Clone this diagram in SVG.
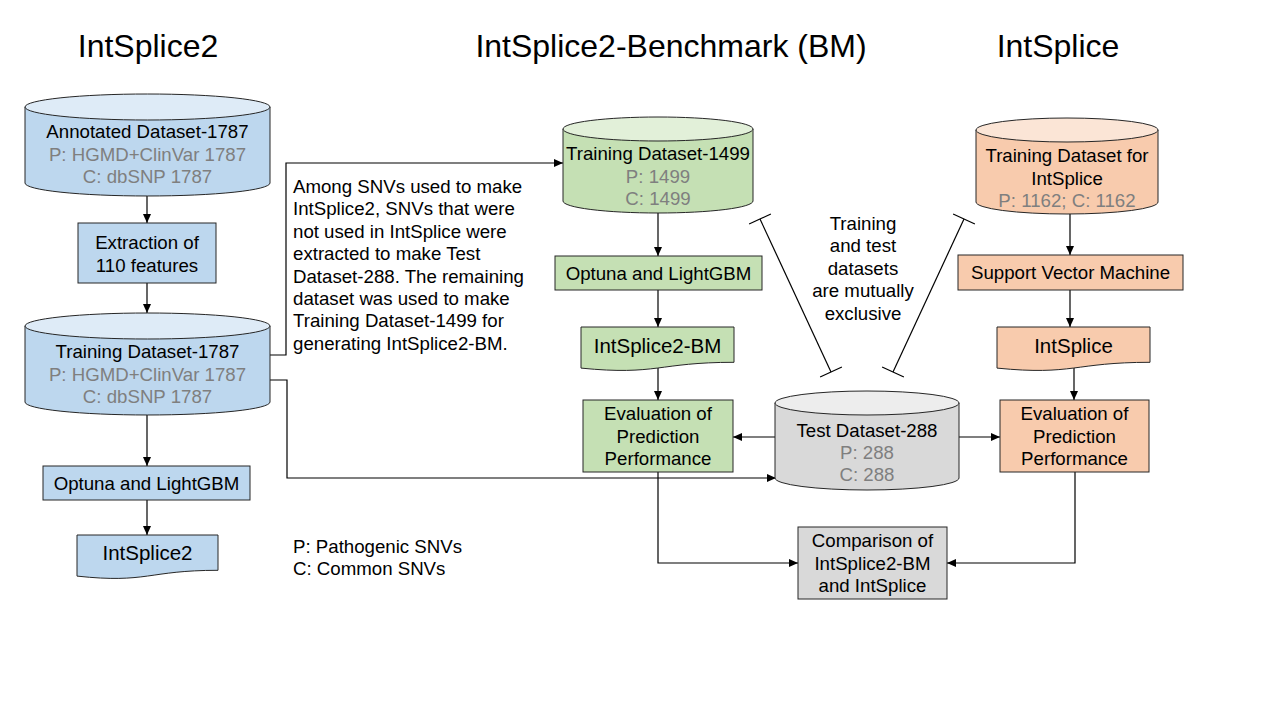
<svg xmlns="http://www.w3.org/2000/svg" width="1280" height="720" viewBox="0 0 1280 720">
<defs>
<marker id="arr" markerUnits="userSpaceOnUse" markerWidth="9" markerHeight="8" refX="9" refY="4" orient="auto"><path d="M0,0 L9,4 L0,8 Z" fill="#000"/></marker>
<marker id="tee" markerUnits="userSpaceOnUse" markerWidth="4" markerHeight="26" refX="2" refY="13" orient="auto" overflow="visible"><path d="M2,1 V25" stroke="#000" stroke-width="1.2" fill="none"/></marker>
</defs>
<style>
text{font-family:"Liberation Sans",Arial,sans-serif;font-size:18.67px;fill:#000;text-anchor:middle}
.title{font-size:32px}
.doc{font-size:20.5px}
.g{fill:#7f7f7f}
.left{text-anchor:start}
.shp{stroke:#262626;stroke-width:1}
.bb{fill:#bdd7ee}.bt{fill:#deebf7}
.gb{fill:#c5e0b4}.gt{fill:#e2f0d9}
.ob{fill:#f8cbad}.ot{fill:#fbe5d6}
.yb{fill:#d9d9d9}.yt{fill:#ededed}
.c{fill:none;stroke:#000;stroke-width:1.2}
</style>
<rect width="1280" height="720" fill="#fff"/>
<g id="titles">
<text class="title" x="148" y="57">IntSplice2</text>
<text class="title" x="671" y="57">IntSplice2-Benchmark (BM)</text>
<text class="title" x="1058" y="57">IntSplice</text>
</g>
<g id="connectors">
<path class="c" d="M147,196 V223" marker-end="url(#arr)"/>
<path class="c" d="M147,283 V313" marker-end="url(#arr)"/>
<path class="c" d="M147,415 V466" marker-end="url(#arr)"/>
<path class="c" d="M147,500 V535" marker-end="url(#arr)"/>
<path class="c" d="M270,355 H286 V163 H563" marker-end="url(#arr)"/>
<path class="c" d="M270,380 H287 V478 H776" marker-end="url(#arr)"/>
<path class="c" d="M658,213 V256" marker-end="url(#arr)"/>
<path class="c" d="M658,290 V327" marker-end="url(#arr)"/>
<path class="c" d="M658,368 V400" marker-end="url(#arr)"/>
<path class="c" d="M775,437 H733" marker-end="url(#arr)"/>
<path class="c" d="M658,472 V563 H798" marker-end="url(#arr)"/>
<path class="c" d="M1070,214 V255" marker-end="url(#arr)"/>
<path class="c" d="M1070,290 V327" marker-end="url(#arr)"/>
<path class="c" d="M1074,368 V400" marker-end="url(#arr)"/>
<path class="c" d="M959,437 H1000" marker-end="url(#arr)"/>
<path class="c" d="M1075,472 V563 H947" marker-end="url(#arr)"/>
<path class="c" d="M760,219 L831,372" marker-start="url(#tee)" marker-end="url(#tee)"/>
<path class="c" d="M964,219 L893,372" marker-start="url(#tee)" marker-end="url(#tee)"/>
</g>
<g id="annotated-1787">
<path class="shp bb" d="M25,107 V183 A122.5,13 0 0 0 270,183 V107 Z"/>
<ellipse class="shp bt" cx="147.5" cy="107" rx="122.5" ry="13"/>
<text x="147.5" y="138">Annotated Dataset-1787</text>
<text class="g" x="147.5" y="160.5">P: HGMD+ClinVar 1787</text>
<text class="g" x="147.5" y="183">C: dbSNP 1787</text>
</g>
<g id="extraction">
<rect class="shp bb" x="78" y="223" width="138" height="60"/>
<text x="147" y="249">Extraction of</text>
<text x="147" y="271.5">110 features</text>
</g>
<g id="training-1787">
<path class="shp bb" d="M25,326 V402 A122.5,13 0 0 0 270,402 V326 Z"/>
<ellipse class="shp bt" cx="147.5" cy="326" rx="122.5" ry="13"/>
<text x="147.5" y="358">Training Dataset-1787</text>
<text class="g" x="147.5" y="380.5">P: HGMD+ClinVar 1787</text>
<text class="g" x="147.5" y="403">C: dbSNP 1787</text>
</g>
<g id="optuna-1">
<rect class="shp bb" x="43" y="466" width="207" height="34"/>
<text x="146.5" y="490">Optuna and LightGBM</text>
</g>
<g id="intsplice2">
<path class="shp bb" d="M77,535 H218 V570.3 C147.5,570.3 147.5,583.7 77,576.1 Z"/>
<text class="doc" x="147.5" y="560">IntSplice2</text>
</g>
<g id="note">
<text class="left" x="293" y="193">Among SNVs used to make</text>
<text class="left" x="293" y="215.4">IntSplice2, SNVs that were</text>
<text class="left" x="293" y="237.8">not used in IntSplice were</text>
<text class="left" x="293" y="260.2">extracted to make Test</text>
<text class="left" x="293" y="282.6">Dataset-288. The remaining</text>
<text class="left" x="293" y="305">dataset was used to make</text>
<text class="left" x="293" y="327.4">Training Dataset-1499 for</text>
<text class="left" x="293" y="349.8">generating IntSplice2-BM.</text>
</g>
<g id="legend">
<text class="left" x="293" y="553">P: Pathogenic SNVs</text>
<text class="left" x="293" y="575">C: Common SNVs</text>
</g>
<g id="training-1499">
<path class="shp gb" d="M563,129 V201 A95,12 0 0 0 753,201 V129 Z"/>
<ellipse class="shp gt" cx="658" cy="129" rx="95" ry="12"/>
<text x="658" y="160">Training Dataset-1499</text>
<text class="g" x="658" y="182.5">P: 1499</text>
<text class="g" x="658" y="205">C: 1499</text>
</g>
<g id="optuna-2">
<rect class="shp gb" x="555" y="256" width="207" height="34"/>
<text x="658.5" y="280">Optuna and LightGBM</text>
</g>
<g id="intsplice2-bm">
<path class="shp gb" d="M581,327 H734 V362.3 C657.5,362.3 657.5,375.7 581,368.1 Z"/>
<text class="doc" x="657.5" y="352.5">IntSplice2-BM</text>
</g>
<g id="eval-bm">
<rect class="shp gb" x="583" y="400" width="150" height="72"/>
<text x="658" y="420">Evaluation of</text>
<text x="658" y="442.5">Prediction</text>
<text x="658" y="465">Performance</text>
</g>
<g id="test-288">
<path class="shp yb" d="M775,403 V478 A92,12 0 0 0 959,478 V403 Z"/>
<ellipse class="shp yt" cx="867" cy="403" rx="92" ry="12"/>
<text x="867" y="437">Test Dataset-288</text>
<text class="g" x="867" y="459">P: 288</text>
<text class="g" x="867" y="481">C: 288</text>
</g>
<g id="comparison">
<rect class="shp yb" x="798" y="527" width="149" height="72"/>
<text x="872.5" y="547">Comparison of</text>
<text x="872.5" y="569.5">IntSplice2-BM</text>
<text x="872.5" y="592">and IntSplice</text>
</g>
<g id="exclusive-note">
<text x="863" y="230">Training</text>
<text x="863" y="252.4">and test</text>
<text x="863" y="274.8">datasets</text>
<text x="863" y="297.2">are mutually</text>
<text x="863" y="319.6">exclusive</text>
</g>
<g id="training-intsplice">
<path class="shp ob" d="M976,130 V202 A91,12 0 0 0 1158,202 V130 Z"/>
<ellipse class="shp ot" cx="1067" cy="130" rx="91" ry="12"/>
<text x="1067" y="162">Training Dataset for</text>
<text x="1067" y="184.5">IntSplice</text>
<text class="g" x="1067" y="207">P: 1162; C: 1162</text>
</g>
<g id="svm">
<rect class="shp ob" x="958" y="255" width="225" height="35"/>
<text x="1070.5" y="279">Support Vector Machine</text>
</g>
<g id="intsplice">
<path class="shp ob" d="M997,327 H1150 V362.3 C1073.5,362.3 1073.5,375.7 997,368.1 Z"/>
<text class="doc" x="1073.5" y="352.5">IntSplice</text>
</g>
<g id="eval-intsplice">
<rect class="shp ob" x="1000" y="400" width="149" height="72"/>
<text x="1074.5" y="420">Evaluation of</text>
<text x="1074.5" y="442.5">Prediction</text>
<text x="1074.5" y="465">Performance</text>
</g>
</svg>
